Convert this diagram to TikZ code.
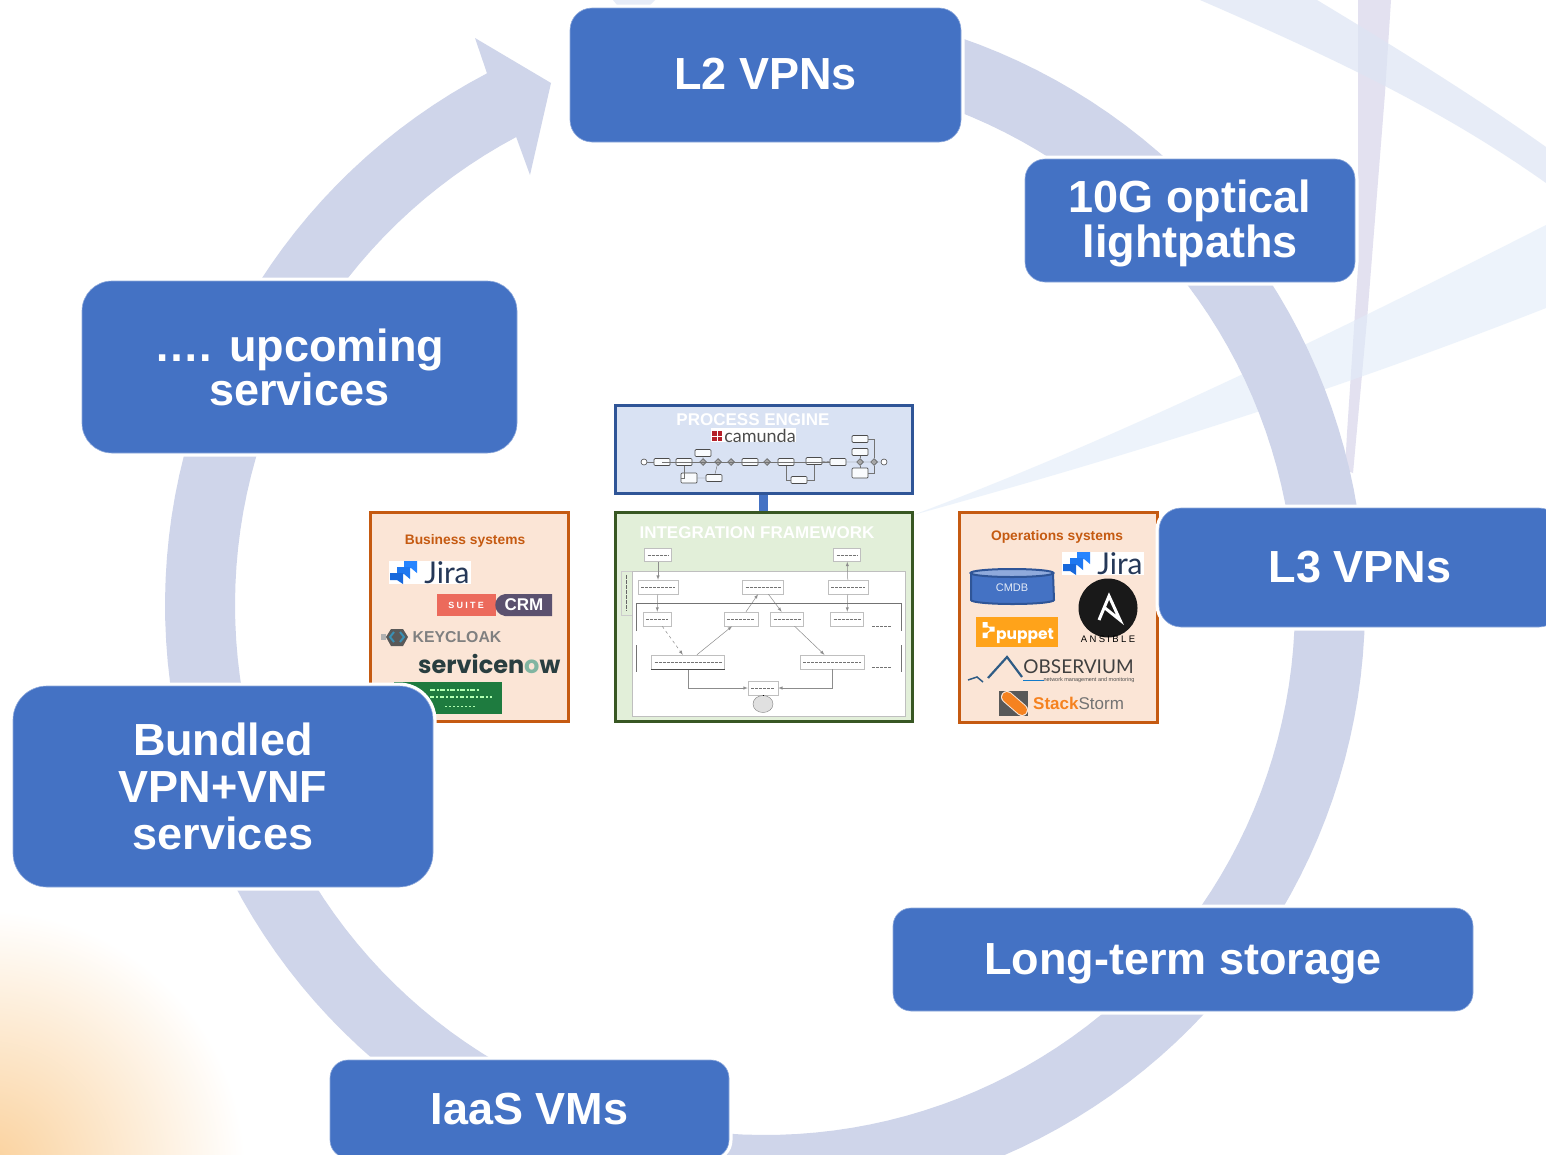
\documentclass[tikz,border=0pt]{standalone}
\usepackage{fontspec}
\setmainfont{Liberation Sans}
\newfontfamily\logofont{Poppins}
\newfontfamily\thinfont{Lato}
\newfontfamily\spacedfont[LetterSpace=25]{Liberation Sans}
\usetikzlibrary{shapes.geometric}

\definecolor{ringblue}{HTML}{CFD5EA}
\definecolor{boxblue}{HTML}{4472C4}
\definecolor{boxedge}{HTML}{8FAADC}
\definecolor{panelorange}{HTML}{C55A11}
\definecolor{panelpeach}{HTML}{FBE5D6}
\definecolor{engineedge}{HTML}{2F5597}
\definecolor{enginefill}{HTML}{D9E2F3}
\definecolor{frameedge}{HTML}{385723}
\definecolor{framefill}{HTML}{E2EFD9}
\definecolor{jiradark}{HTML}{253858}
\definecolor{jiraone}{HTML}{2684FF}
\definecolor{jiratwo}{HTML}{1F78F0}
\definecolor{jirathree}{HTML}{1868DB}
\definecolor{glow}{HTML}{FAD09A}
\definecolor{bandtall}{HTML}{E3E1F0}
\definecolor{bandone}{HTML}{DDE5F4}
\definecolor{bandtwo}{HTML}{E1ECF9}
\definecolor{suitered}{HTML}{EC6A5C}
\definecolor{suitedark}{HTML}{5B516F}
\definecolor{nowdark}{HTML}{293E40}
\definecolor{nowgreen}{HTML}{81B5A1}
\definecolor{leafgreen}{HTML}{1E7B3F}
\definecolor{puppetorange}{HTML}{FFA31A}
\definecolor{stormorange}{HTML}{F58220}
\definecolor{peakblue}{HTML}{2F5C85}
\definecolor{camundared}{HTML}{B5202A}

\tikzset{
  servicebox/.style={rectangle,rounded corners=#1,fill=boxblue,draw=boxedge,line width=0.6pt,
    preaction={draw=white,line width=7pt},text=white,inner sep=0pt,align=center,
    font=\fontsize{45}{44}\selectfont\bfseries},
  servicetext/.style={text=white,inner sep=0pt,align=center,font=\fontsize{45}{45}\selectfont\bfseries},
  panelbox/.style={rectangle,line width=3pt,inner sep=0pt},
  paneltitle/.style={text=panelorange,font=\fontsize{13.8}{15}\selectfont\bfseries,inner sep=0pt},
  frametitle/.style={text=white,font=\fontsize{17}{19}\selectfont\bfseries,inner sep=0pt},
  bpmntask/.style={rectangle,rounded corners=1pt,draw=black!70,fill=white!85!enginefill,line width=0.7pt,
    minimum width=16pt,minimum height=7pt,inner sep=0pt},
  bpmngate/.style={diamond,draw=black!70,fill=black!35,line width=0.5pt,minimum size=7pt,inner sep=0pt},
  bpmnevent/.style={circle,draw=black!70,fill=white,line width=0.6pt,minimum size=6pt,inner sep=0pt},
  bpmnline/.style={draw=black!55,line width=0.4pt},
  tinybox/.style={rectangle,draw=black!25,fill=white,line width=0.5pt,inner sep=0pt,
    path picture={\draw[black!55,line width=1pt,dash pattern=on 3pt off 1pt]
      ([xshift=3pt]path picture bounding box.west) -- ([xshift=-3pt]path picture bounding box.east);}},
  tinyline/.style={draw=black!45,line width=0.5pt,-latex},
  logotext/.style={inner sep=0pt},
}

\newcommand{\jiralogo}[3]{
  \begin{scope}[shift={(#1,#2)}]
    \fill[white] (0,0) rectangle (82,23);
    \fill[jiraone] (15,0) -- (28,0) -- (28,12) -- (22,7) -- (15,7) -- cycle;
    \fill[jiratwo] (8,6) -- (21,6) -- (21,18) -- (15,13) -- (8,13) -- cycle;
    \fill[jirathree] (1,12) -- (14,12) -- (14,23) -- (8,19) -- (1,19) -- cycle;
    \node (#3) [logotext,text=jiradark,font=\thinfont\fontsize{30}{31}\selectfont] at (58,11.5) {Jira};
  \end{scope}
}

\begin{document}
\begin{tikzpicture}[x=1pt,y=-1pt]

\path [use as bounding box,clip] (0,0) rectangle (1546,1154);
\fill [white] (0,0) rectangle (1546,1154);

% corner glow
\shade [inner color=glow,outer color=white] (-275,1430) rectangle (245,910);

% background bands
\fill [bandtall] (1358,0) -- (1391,0) -- (1385,93) -- (1367,320) -- (1353,473) -- (1345,470) -- (1347,433) -- (1358,267) -- cycle;
\fill [bandtwo,opacity=0.6] (913,515) .. controls (1100,445) and (1300,350) .. (1546,225) -- (1546,308) .. controls (1350,385) and (1150,450) .. cycle;
\fill [bandone,opacity=0.7] (1200,0) .. controls (1350,65) and (1450,115) .. (1546,183) -- (1546,147) .. controls (1480,100) and (1400,50) .. (1317,0) -- cycle;
\fill [bandone,opacity=0.7] (613,0) -- (655,0) -- (650,5) -- (617,5) -- cycle;

% ring with its arrow head
\fill [ringblue] plot [domain=75:-242.4,samples=160] ({765+600*cos(\x)},{605-600*sin(\x)})
  -- (475,38) -- (551,83) -- (530,175) --
  plot [domain=-242:75,samples=160] ({765+530*cos(\x)},{605-530*sin(\x)}) -- cycle;

% process engine
\node (engine) [panelbox,draw=engineedge,fill=enginefill,minimum width=297pt,minimum height=88pt] at (763.5,449) {};
\node (enginetitle) [frametitle] at (753,419.5) {PROCESS ENGINE};
\fill [white] (711,428) rectangle (796,442);
\fill [camundared] (712,431) rectangle (722,441);
\draw [white,line width=0.8pt] (717,431) -- (717,441) (712,436) -- (722,436);
\node (camunda) [logotext,text=black!70,font=\thinfont\fontsize{18}{19}\selectfont] at (760,435.5) {camunda};

\node (bstart) [bpmnevent] at (644,462) {};
\node (btask1) [bpmntask] at (662,462) {};
\node (btask2) [bpmntask] at (684,462) {};
\node (bgate1) [bpmngate] at (703,462) {};
\node (btask3) [bpmntask] at (703,453) {};
\node (btask4) [bpmntask,minimum height=10pt] at (689,478) {};
\node (btask5) [bpmntask] at (714,478) {};
\node (bgate2) [bpmngate] at (718,462) {};
\node (bgate3) [bpmngate] at (731,462) {};
\node (btask6) [bpmntask] at (750,462) {};
\node (bgate4) [bpmngate] at (767,462) {};
\node (btask7) [bpmntask] at (786,462) {};
\node (btask8) [bpmntask] at (799,480) {};
\node (btask9) [bpmntask] at (814,461) {};
\node (btask10) [bpmntask] at (838,462) {};
\node (bgate5) [bpmngate] at (860,462) {};
\node (btask11) [bpmntask] at (860,452) {};
\node (btask12) [bpmntask] at (860,439) {};
\node (btask13) [bpmntask,minimum height=10pt] at (860,473) {};
\node (bgate6) [bpmngate] at (874,462) {};
\node (bend) [bpmnevent] at (884,462) {};

\draw [bpmnline] (bstart) -- (btask1) -- (btask2) -- (bgate1) -- (bgate2) -- (bgate3) -- (btask6) -- (bgate4) -- (btask7);
\draw [bpmnline] (btask9) -- (btask10) -- (bgate5) -- (bgate6) -- (bend);
\draw [bpmnline] (btask3) -- (bgate1) (btask4) -- (btask5) -- (bgate2);
\draw [bpmnline] (btask2) |- (btask4);
\draw [bpmnline] (btask7) |- (bgate3);
\draw [bpmnline] (btask7) |- (btask8) -| (btask9);
\draw [bpmnline] (btask1) |- (btask10);
\draw [bpmnline] (btask12) -| (bgate6) (btask13) -| (bgate6);
\draw [bpmnline] (btask11) -- (bgate5) (btask13) -- (bgate5);
\draw [bpmnline] (bgate4) |- (btask10);

% integration framework
\node (frame) [panelbox,draw=frameedge,fill=framefill,minimum width=297pt,minimum height=209pt] at (763.5,616.5) {};
\node (frametitle) [frametitle] at (757,532.5) {INTEGRATION FRAMEWORK};
\draw [boxblue,line width=9pt] (engine.south) -- (frame.north);

\fill [framefill,draw=black!20,line width=0.6pt] (621,571) rectangle (632,615);
\draw [black!60,line width=1.5pt,dash pattern=on 4pt off 1pt] (626.5,575) -- (626.5,611);
\fill [white,draw=black!25,line width=0.6pt] (632,571) rectangle (905,716);

\node (fsource) [tinybox,minimum width=27pt,minimum height=13pt] at (658,555) {};
\node (fsink) [tinybox,minimum width=27pt,minimum height=13pt] at (847,555) {};
\node (fin) [tinybox,minimum width=40pt,minimum height=14pt] at (658,587) {};
\node (fmid) [tinybox,minimum width=41pt,minimum height=14pt] at (763,587) {};
\node (fout) [tinybox,minimum width=40pt,minimum height=14pt] at (848,587) {};
\node (fa) [tinybox,minimum width=28pt,minimum height=14pt] at (657,619) {};
\node (fb) [tinybox,minimum width=34pt,minimum height=14pt] at (741,619) {};
\node (fc) [tinybox,minimum width=33pt,minimum height=14pt] at (787,619) {};
\node (fd) [tinybox,minimum width=33pt,minimum height=14pt] at (847,619) {};
\node (fleft) [tinybox,minimum width=73pt,minimum height=14pt] at (688,662) {};
\node (fright) [tinybox,minimum width=64pt,minimum height=14pt] at (832,662) {};
\node (fstore) [tinybox,minimum width=30pt,minimum height=14pt] at (763,688) {};
\node (fdisk) [draw=black!50,fill=black!12,ellipse,minimum width=20pt,minimum height=17pt,inner sep=0pt] at (763,704) {};
\node (fnote1) [tinybox,draw=none,minimum width=26pt,minimum height=6pt] at (882,626) {};
\node (fnote2) [tinybox,draw=none,minimum width=26pt,minimum height=6pt] at (882,667) {};

\draw [tinyline] (fsource) -- (fin);
\draw [tinyline] (fout) -- (fsink);
\draw [tinyline] (fin) -- (fa);
\draw [tinyline] (fb) -- (fmid);
\draw [tinyline] (fmid) -- (fc);
\draw [tinyline] (fout) -- (fd);
\draw [tinyline,dashed] (fa) -- (fleft);
\draw [tinyline] (fleft) -- (fb);
\draw [tinyline] (fc) -- (fright);
\draw [tinyline] (fleft) |- (fstore);
\draw [tinyline] (fright) |- (fstore);
\draw (fstore) -- (fdisk);
\draw [black!55,line width=0.8pt] (636,631) -- (636,603) -- (901,603) -- (901,631);
\draw [black!55,line width=0.6pt] (636,645) -- (636,672);
\draw [black!55,line width=0.6pt] (901,645) -- (901,672);
\draw [black!70,line width=0.9pt] (651,669) -- (725,669);

% business systems
\node (business) [panelbox,draw=panelorange,fill=panelpeach,minimum width=198pt,minimum height=209pt] at (469,616.5) {};
\node (businesstitle) [paneltitle] at (465,541) {Business systems};
\jiralogo{389}{561}{jirabusiness}

\fill [suitered] (437,594) rectangle (496,616);
\fill [suitedark] (552,594) -- (505,594) .. controls (492,596) and (492,614) .. (505,616) -- (552,616) -- cycle;
\node (suite) [logotext,text=white,font=\spacedfont\fontsize{9}{10}\selectfont\bfseries] at (466,605) {SUITE};
\node (crm) [logotext,text=white,font=\fontsize{17}{18}\selectfont\bfseries] at (524,605) {CRM};

\fill [black!65] (386,637) -- (391,629) -- (403,629) -- (408,637) -- (403,646) -- (391,646) -- cycle;
\fill [black!30] (381,634) rectangle (386,640);
\draw [cyan!70!black,line width=2pt] (394,632) -- (390,637) -- (394,642) (400,632) -- (404,637) -- (400,642);
\node (keycloak) [logotext,text=black!50,font=\fontsize{15.8}{17}\selectfont\bfseries] at (457,637.5) {KEYCLOAK};

\node (servicenow) [logotext,anchor=west,font=\logofont\fontsize{24}{25}\selectfont\bfseries] at (418,664) {\textcolor{nowdark}{servicen}\textcolor{nowgreen}{o}\textcolor{nowdark}{w}};

\fill [leafgreen] (394,682) rectangle (502,714);
\draw [white!70!green,line width=1.2pt,dash pattern=on 5pt off 1.5pt on 2pt off 1.5pt] (430,690) -- (480,690);
\draw [white!70!green,line width=1.2pt,dash pattern=on 4pt off 2pt on 2pt off 2pt] (430,697) -- (492,697);
\draw [white!70!green,line width=0.8pt,dash pattern=on 2pt off 2pt] (445,706) -- (475,706);

% operations systems
\node (operations) [panelbox,draw=panelorange,fill=panelpeach,minimum width=198pt,minimum height=210pt] at (1058,617) {};
\node (operationstitle) [paneltitle] at (1057,537) {Operations systems};
\jiralogo{1062}{552}{jiraoperations}

\draw [engineedge,fill=boxblue,line width=2pt] (971,573) -- (971,600) arc [start angle=180,end angle=360,x radius=41.5,y radius=-4] -- (1053,573);
\draw [engineedge,fill=boxedge,line width=2pt] (1012,573) ellipse [x radius=41.5,y radius=4];
\node (cmdb) [logotext,text=white!85!boxblue,font=\fontsize{11}{12}\selectfont] at (1012,588) {CMDB};

\node (ansiblemark) [circle,fill=black!90,minimum size=59pt,inner sep=0pt] at (1108,608) {};
\draw [white,line width=3pt,line join=miter] (1099,620) -- (1109,596) -- (1120,620) -- (1105,608);
\node (ansible) [logotext,font=\spacedfont\fontsize{9.5}{10}\selectfont] at (1108,639.5) {ANSIBLE};

\fill [puppetorange] (976,617) rectangle (1058,647);
\draw [white,line width=1pt] (985,625) -- (992,629) -- (985,635);
\fill [white] (982.5,622) rectangle (987.5,627.5) (989.5,626.5) rectangle (994.5,631.5) (982.5,632.5) rectangle (987.5,638);
\node (puppet) [logotext,text=white,font=\logofont\fontsize{15.5}{16}\selectfont\bfseries] at (1025,636) {puppet};

\draw [peakblue,line width=1.5pt] (968,680) -- (977,677) -- (983,682);
\draw [peakblue,line width=2.2pt] (988,678) -- (1007,657) -- (1022,677);
\draw [cyan!60!blue,line width=1pt] (1023,680) -- (1044,680);
\node (observium) [logotext,text=black!75,font=\thinfont\fontsize{19}{20}\selectfont] at (1078.5,667) {OBSERVIUM};
\node (observiumsub) [logotext,text=black!70,font=\fontsize{5.5}{6}\selectfont] at (1089,680) {network management and monitoring};

\fill [black!65] (999,691) rectangle (1028,716);
\draw [panelpeach,line width=12pt,line cap=round] (1007,697) -- (1022,710);
\draw [stormorange,line width=10pt,line cap=round] (1007,697) -- (1022,710);
\node (stackstorm) [logotext,anchor=west,text=black!55,font=\fontsize{17}{18}\selectfont] at (1033,703.5) {\textcolor{stormorange}{\bfseries Stack}Storm};

% services around the ring
\node (ltwo) [servicebox=22pt,text depth=3pt,minimum width=391pt,minimum height=134pt] at (765.5,75) {L2 VPNs};
\node (optical) [servicebox=20pt,minimum width=330pt,minimum height=123pt] at (1190,220.5) {};
\node (opticaltext) [servicetext] at (1190,223) {10G optical\\lightpaths};
\node (lthree) [servicebox=22pt,minimum width=402pt,minimum height=119pt] at (1360,567.5) {L3 VPNs};
\node (storage) [servicebox=18pt,text depth=0pt,minimum width=580pt,minimum height=103pt] at (1183,959.5) {Long-term storage};
\node (iaas) [servicebox=18pt,minimum width=399pt,minimum height=98pt] at (529.5,1109) {IaaS VMs};
\node (bundled) [servicebox=34pt,minimum width=420pt,minimum height=201pt,font=\fontsize{45}{47}\selectfont\bfseries] at (223,786.5) {Bundled\\VPN+VNF\\services};
\node (upcoming) [servicebox=30pt,minimum width=435pt,minimum height=172pt] at (299.5,367) {…. upcoming\\services};

\end{tikzpicture}
\end{document}
